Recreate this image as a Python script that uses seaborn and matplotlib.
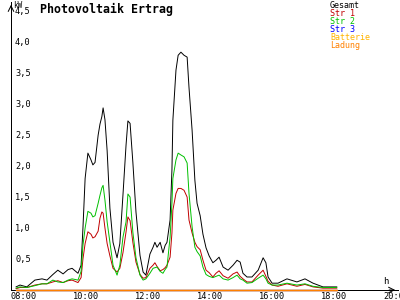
import matplotlib
matplotlib.use("Agg")
import matplotlib.pyplot as plt
import matplotlib.transforms as mtransforms
import seaborn as sns
import pandas as pd

# time in decimal hours
hours = [8.00, 8.13, 8.35, 8.61, 8.84, 9.00, 9.19, 9.35, 9.52, 9.68, 9.81,
         10.00, 10.10, 10.16, 10.23, 10.32, 10.42, 10.48, 10.55, 10.65, 10.71,
         10.77, 10.81, 10.87, 10.94, 11.03, 11.13, 11.26, 11.35, 11.45, 11.55,
         11.61, 11.68, 11.77, 11.87, 12.00, 12.10, 12.19, 12.32, 12.42, 12.48,
         12.55, 12.65, 12.74, 12.81, 12.87, 12.97, 13.03, 13.06, 13.16, 13.23,
         13.32, 13.42, 13.52, 13.58, 13.68, 13.77, 13.84, 13.94, 14.03, 14.13,
         14.23, 14.35, 14.45, 14.55, 14.68, 14.84, 15.00, 15.13, 15.23, 15.32,
         15.45, 15.61, 15.81, 15.97, 16.06, 16.13, 16.26, 16.45, 16.74, 17.06,
         17.32, 17.58, 17.90, 18.35]

gesamt = [0.05, 0.08, 0.05, 0.16, 0.18, 0.16, 0.25, 0.32, 0.26, 0.33, 0.35,
          0.27, 0.40, 1.00, 1.80, 2.21, 2.10, 2.02, 2.06, 2.50, 2.68,
          2.80, 2.94, 2.75, 2.25, 1.32, 0.77, 0.52, 0.75, 1.53, 2.34,
          2.73, 2.69, 2.06, 1.26, 0.56, 0.29, 0.24, 0.58, 0.69, 0.77,
          0.69, 0.77, 0.60, 0.72, 0.77, 1.13, 1.94, 2.74, 3.55, 3.79,
          3.84, 3.79, 3.76, 3.27, 2.58, 1.77, 1.40, 1.20, 0.90, 0.68,
          0.55, 0.44, 0.48, 0.53, 0.37, 0.32, 0.40, 0.48, 0.45, 0.27,
          0.21, 0.21, 0.32, 0.52, 0.44, 0.21, 0.11, 0.11, 0.18, 0.13,
          0.18, 0.11, 0.05, 0.05]

str1 = [0.02, 0.04, 0.04, 0.08, 0.10, 0.10, 0.13, 0.15, 0.12, 0.15, 0.16,
        0.12, 0.20, 0.50, 0.75, 0.94, 0.90, 0.84, 0.86, 0.95, 1.16,
        1.26, 1.24, 1.00, 0.75, 0.55, 0.35, 0.29, 0.35, 0.60, 0.94,
        1.18, 1.12, 0.77, 0.45, 0.25, 0.19, 0.20, 0.35, 0.40, 0.44,
        0.38, 0.31, 0.33, 0.36, 0.40, 0.53, 0.92, 1.29, 1.56, 1.64,
        1.64, 1.61, 1.50, 1.13, 0.92, 0.77, 0.70, 0.65, 0.48, 0.32,
        0.28, 0.21, 0.27, 0.31, 0.23, 0.19, 0.26, 0.29, 0.22, 0.18,
        0.13, 0.13, 0.24, 0.32, 0.22, 0.14, 0.08, 0.06, 0.10, 0.06,
        0.09, 0.05, 0.03, 0.03]

str2 = [0.03, 0.05, 0.04, 0.07, 0.10, 0.10, 0.16, 0.13, 0.12, 0.16, 0.18,
        0.16, 0.30, 0.72, 1.00, 1.27, 1.24, 1.18, 1.20, 1.40, 1.53,
        1.65, 1.69, 1.45, 1.10, 0.77, 0.40, 0.24, 0.40, 0.85, 1.10,
        1.55, 1.50, 0.93, 0.52, 0.24, 0.16, 0.18, 0.27, 0.35, 0.36,
        0.37, 0.30, 0.27, 0.33, 0.37, 0.85, 1.40, 1.80, 2.10, 2.21,
        2.18, 2.15, 2.05, 1.56, 1.02, 0.69, 0.62, 0.55, 0.37, 0.25,
        0.22, 0.20, 0.22, 0.24, 0.18, 0.16, 0.20, 0.24, 0.18, 0.16,
        0.11, 0.12, 0.19, 0.24, 0.18, 0.11, 0.08, 0.08, 0.11, 0.08,
        0.10, 0.06, 0.04, 0.04]

str3 = [0.0] * len(hours)
batterie = [0.0] * len(hours)
ladung = [0.0] * len(hours)

series_names = ["Gesamt", "Str 1", "Str 2", "Str 3", "Batterie", "Ladung"]
series_colors = ["#000000", "#c00000", "#00c000", "#0000ff", "#ffb400", "#ff8000"]

x_ticks = [8, 10, 12, 14, 16, 18, 20]
x_labels = ["08:00", "10:00", "12:00", "14:00", "16:00", "18:00", "20:00"]
y_ticks = [0.5, 1.0, 1.5, 2.0, 2.5, 3.0, 3.5, 4.0, 4.5]
y_labels = ["0,5", "1,0", "1,5", "2,0", "2,5", "3,0", "3,5", "4,0", "4,5"]

df = pd.DataFrame({"h": hours, "Gesamt": gesamt, "Str 1": str1, "Str 2": str2,
                   "Str 3": str3, "Batterie": batterie, "Ladung": ladung})

sns.set_style("white")
plt.rcParams["font.family"] = ["DejaVu Sans Mono", "DejaVu Sans"]

W, H = 400, 300
fig = plt.figure(figsize=(4, 3), dpi=100)
ax = fig.add_axes([11 / W, 10 / H, (398 - 11) / W, (290 - 2) / H])
ax.set_xlim(7.84, 20.32)
ax.set_ylim(0, 4.65)

for i, (name, col) in enumerate(zip(series_names, series_colors)):
    flat = i >= 3
    sns.lineplot(data=df, x="h", y=name, color=col,
                 linewidth=1.0 if flat else 0.7, ax=ax, legend=False,
                 clip_on=not flat, zorder=3 if flat else 2)

for s in ["top", "right"]:
    ax.spines[s].set_visible(False)
for s in ["left", "bottom"]:
    ax.spines[s].set_color("black")
    ax.spines[s].set_linewidth(0.72)

ax.set_xlabel("")
ax.set_ylabel("")
ax.set_xticks(x_ticks)
ax.set_xticklabels([])
ax.set_yticks(y_ticks)
ax.set_yticklabels([])
ax.tick_params(axis="both", direction="inout", length=5, width=0.72, color="black")

# tick labels
px = 72 / 100
for t, lab in zip(x_ticks, x_labels):
    tr = ax.get_xaxis_transform() + mtransforms.ScaledTranslation(-5 * px / 72, -2 * px / 72, fig.dpi_scale_trans)
    ax.text(t, 0, lab, transform=tr, ha="left", va="top", fontsize=6.2, color="black", clip_on=False)
for t, lab in zip(y_ticks, y_labels):
    tr = ax.get_yaxis_transform() + mtransforms.ScaledTranslation(4 * px / 72, 0, fig.dpi_scale_trans)
    ax.text(0, t, lab, transform=tr, ha="left", va="center", fontsize=6.2, color="black")

# arrows at axis ends
ax.annotate("", xy=(0, 1.0), xytext=(0, 0.97), xycoords="axes fraction",
            arrowprops=dict(arrowstyle="->", color="black", lw=0.72))
ax.annotate("", xy=(1.0, 0), xytext=(0.97, 0), xycoords="axes fraction",
            arrowprops=dict(arrowstyle="->", color="black", lw=0.72))

fig.text(13 / W, 1 - 1 / H, "kW", ha="left", va="top", fontsize=5.5, color="black")
fig.text(383 / W, 1 - 277 / H, "h", ha="left", va="top", fontsize=6.5, color="black")
fig.text(40 / W, 1 - 3 / H, "Photovoltaik Ertrag", ha="left", va="top",
         fontsize=8.4, fontweight="bold", color="black")

for i, (name, col) in enumerate(zip(series_names, series_colors)):
    fig.text(330 / W, 1 - (1 + i * 8) / H, name, ha="left", va="top",
             fontsize=6.0, color=col)

fig.savefig("out.png", dpi=100)
